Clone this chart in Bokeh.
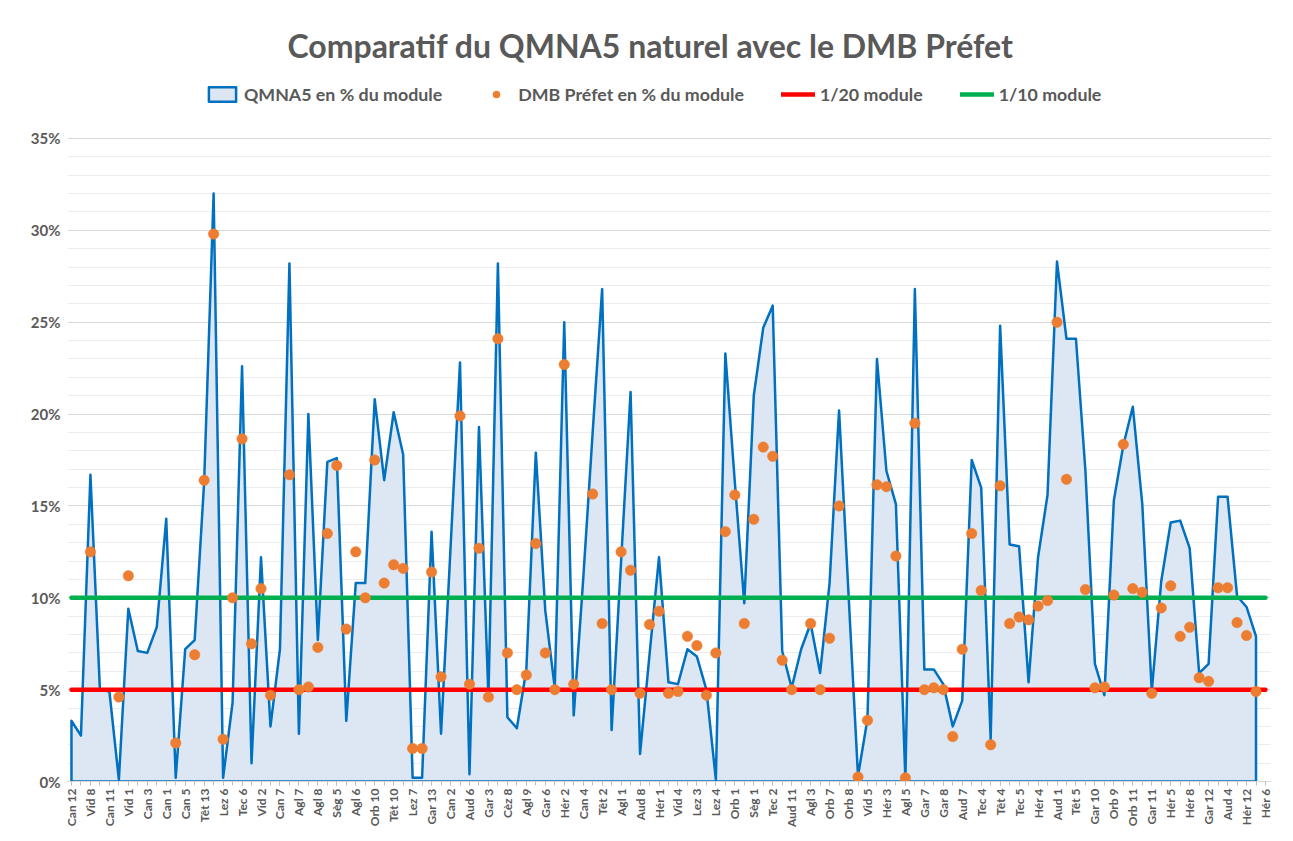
import math
from bokeh.plotting import figure
from bokeh.models import Range1d, FixedTicker, Label, Legend, LegendItem, PrintfTickFormatter
from bokeh.embed import file_html
from bokeh.resources import INLINE

# ---- data -------------------------------------------------------------
tick_labels = ["Can 12", "Vid 8", "Can 11", "Vid 1", "Can 3", "Can 1", "Can 5", "Têt 13",
               "Lez 6", "Tec 6", "Vid 2", "Can 7", "Agl 7", "Agl 8", "Sèg 5", "Agl 6",
               "Orb 10", "Têt 10", "Lez 7", "Gar 13", "Can 2", "Aud 6", "Gar 3", "Cèz 8",
               "Agl 9", "Gar 6", "Hér 2", "Can 4", "Têt 2", "Agl 1", "Aud 8", "Hér 1",
               "Vid 4", "Lez 3", "Lez 4", "Orb 1", "Sèg 1", "Tec 2", "Aud 11", "Agl 3",
               "Orb 7", "Orb 8", "Vid 5", "Hér 3", "Agl 5", "Gar 7", "Gar 8", "Aud 7",
               "Tec 4", "Têt 4", "Tec 5", "Hér 4", "Aud 1", "Têt 5", "Gar 10", "Orb 9",
               "Orb 11", "Gar 11", "Hér 5", "Hér 8", "Gar 12", "Aud 4", "Hér 12", "Hér 6"]

# QMNA5 naturel en % du module (one value per station, last station without value)
qmna5 = [3.3, 2.5, 16.7, 5.0, 4.9, 0.1, 9.4, 7.1, 7.0, 8.4,
         14.3, 0.2, 7.2, 7.7, 16.3, 32.0, 0.2, 4.3, 22.6, 1.0,
         12.2, 3.0, 7.2, 28.2, 2.6, 20.0, 7.7, 17.4, 17.6, 3.3,
         10.8, 10.8, 20.8, 16.4, 20.1, 17.8, 0.2, 0.2, 13.6, 2.6,
         12.7, 22.8, 0.4, 19.3, 4.6, 28.2, 3.5, 2.9, 6.1, 17.9,
         9.3, 5.1, 25.0, 3.6, 11.0, 19.0, 26.8, 2.8, 12.0, 21.2,
         1.5, 6.9, 12.2, 5.4, 5.3, 7.2, 6.8, 5.0, 0.1, 23.3,
         16.3, 9.7, 21.0, 24.7, 25.9, 7.1, 5.1, 7.2, 8.6, 5.9,
         10.8, 20.2, 10.2, 0.3, 3.4, 23.0, 16.9, 15.1, 0.1, 26.8,
         6.1, 6.1, 5.3, 3.0, 4.4, 17.5, 16.0, 2.3, 24.8, 12.9,
         12.8, 5.4, 12.2, 15.6, 28.3, 24.1, 24.1, 16.9, 6.4, 4.7,
         15.3, 18.3, 20.4, 15.1, 4.9, 10.9, 14.1, 14.2, 12.7, 5.9,
         6.4, 15.5, 15.5, 10.1, 9.5, 7.9, None]

# DMB Préfet en % du module (None = no value)
dmb = [None, None, 12.5, None, None, 4.6, 11.2, None, None, None,
       None, 2.1, None, 6.9, 16.4, 29.8, 2.3, 10.0, 18.65, 7.5,
       10.5, 4.7, None, 16.7, 5.0, 5.15, 7.3, 13.5, 17.2, 8.3,
       12.5, 10.0, 17.5, 10.8, 11.8, 11.6, 1.8, 1.8, 11.4, 5.7,
       None, 19.9, 5.3, 12.7, 4.6, 24.1, 7.0, 5.0, 5.8, 12.95,
       7.0, 5.0, 22.7, 5.3, None, 15.65, 8.6, 5.0, 12.5, 11.5,
       4.8, 8.55, 9.27, 4.8, 4.9, 7.9, 7.4, 4.7, 7.0, 13.6,
       15.6, 8.6, 14.27, 18.2, 17.7, 6.6, 5.0, None, 8.6, 5.0,
       7.8, 15.0, None, 0.25, 3.33, 16.15, 16.05, 12.27, 0.2, 19.5,
       5.0, 5.1, 5.0, 2.45, 7.2, 13.5, 10.4, 2.0, 16.1, 8.6,
       8.95, 8.8, 9.55, 9.85, 25.0, 16.45, None, 10.45, 5.1, 5.15,
       10.15, 18.35, 10.5, 10.3, 4.8, 9.45, 10.65, 7.9, 8.4, 5.65,
       5.45, 10.55, 10.55, 8.65, 7.95, 4.9, None]

module_20 = 5.0    # 1/20 module in %
module_10 = 10.0   # 1/10 module in %

# ---- styling -----------------------------------------------------------
FONT = "Lato"
TXT = "#595959"
n = len(qmna5)
idx = list(range(n))

p = figure(width=1285, height=835, output_backend="svg", toolbar_location=None,
           x_range=Range1d(-0.42, 126.53), y_range=Range1d(0, 41.53),
           min_border_left=67, min_border_right=15, min_border_top=18, min_border_bottom=54)
p.outline_line_color = None
p.background_fill_color = "white"
p.border_fill_color = "white"

# grid / axes
p.yaxis.ticker = FixedTicker(ticks=list(range(0, 36, 5)), minor_ticks=list(range(0, 36)))
p.yaxis.formatter = PrintfTickFormatter(format="%d%%")
p.ygrid.grid_line_color = "#d9d9d9"
p.ygrid.grid_line_width = 1
p.ygrid.minor_grid_line_color = "#ececec"
p.ygrid.minor_grid_line_width = 1
p.xgrid.grid_line_color = None
p.yaxis.axis_line_color = None
p.yaxis.major_tick_line_color = None
p.yaxis.minor_tick_line_color = None
p.yaxis.major_tick_out = 0
p.yaxis.minor_tick_out = 0
p.yaxis.major_label_text_font = FONT
p.yaxis.major_label_text_font_style = "bold"
p.yaxis.major_label_text_font_size = "15px"
p.yaxis.major_label_text_color = TXT
p.yaxis.major_label_standoff = 7

area_idx = [i for i, v in enumerate(qmna5) if v is not None]
p.xaxis.ticker = FixedTicker(ticks=list(range(0, n, 2)), minor_ticks=idx)
p.xaxis.major_label_overrides = {i: tick_labels[i // 2] for i in range(0, n, 2)}
p.xaxis.major_label_orientation = math.pi / 2
p.xaxis.major_label_text_font = FONT
p.xaxis.major_label_text_font_style = "bold"
p.xaxis.major_label_text_font_size = "12px"
p.xaxis.major_label_text_color = TXT
p.xaxis.major_label_standoff = 3
p.xaxis.axis_line_color = "#d9d9d9"
p.xaxis.major_tick_line_color = "#bfbfbf"
p.xaxis.minor_tick_line_color = "#bfbfbf"
p.xaxis.major_tick_in = 0
p.xaxis.major_tick_out = 4
p.xaxis.minor_tick_in = 0
p.xaxis.minor_tick_out = 4

# area series (closed to the baseline)
px = [area_idx[0]] + area_idx + [area_idx[-1]]
py = [0] + [qmna5[i] for i in area_idx] + [0]
r_area = p.patch(px, py, fill_color="#dde7f3", line_color="#0070c0", line_width=2.5,
                 line_join="round")

# reference lines
r_20 = p.line(idx, [module_20] * n, line_color="#ff0000", line_width=4.5, line_cap="round")
r_10 = p.line(idx, [module_10] * n, line_color="#00b050", line_width=4.5, line_cap="round")

# DMB points
dx = [i for i, v in enumerate(dmb) if v is not None]
dy = [dmb[i] for i in dx]
r_dmb = p.scatter(dx, dy, size=10.5, fill_color="#ed7d31", line_color="#ed7d31", line_width=0.5)

# title
title = Label(x=583, y=736, x_units="screen", y_units="screen",
              text="Comparatif du QMNA5 naturel avec le DMB Préfet",
              text_font=FONT, text_font_style="bold", text_font_size="32px",
              text_color=TXT, text_align="center", text_baseline="middle")
p.add_layout(title)

legend = Legend(items=[LegendItem(label="QMNA5 en % du module", renderers=[r_area]),
                       LegendItem(label="DMB Préfet en % du module", renderers=[r_dmb]),
                       LegendItem(label="1/20 module", renderers=[r_20]),
                       LegendItem(label="1/10 module", renderers=[r_10])],
                orientation="horizontal", location=(138, 676),
                label_text_font=FONT, label_text_font_style="bold",
                label_text_font_size="17.8px", label_text_color=TXT,
                glyph_width=34, glyph_height=18, label_standoff=5, spacing=37,
                padding=0, margin=0, border_line_alpha=0, background_fill_alpha=0)
p.add_layout(legend)

open("out.html", "w").write(file_html(p, INLINE))
